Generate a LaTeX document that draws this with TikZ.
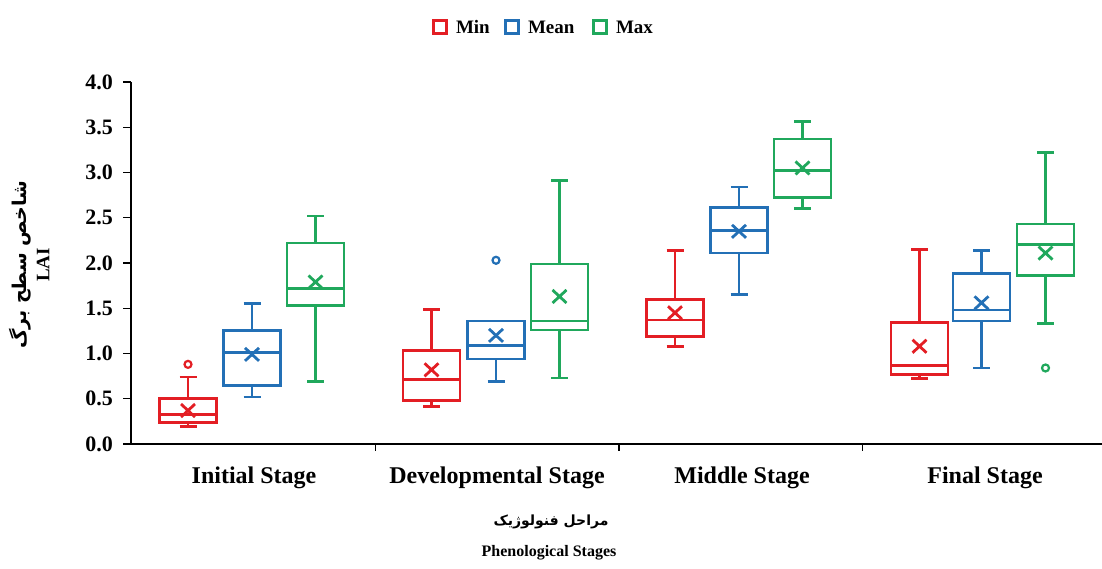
\documentclass[tikz,border=0pt]{standalone}
\usepackage{fontspec}
\setmainfont{Liberation Serif}
\newfontfamily\arabicfont[Script=Arabic]{DejaVu Sans}
\TeXXeTstate=1
\usepackage{tikz}
\usetikzlibrary{positioning}
\definecolor{minred}{RGB}{227,30,36}
\definecolor{meanblue}{RGB}{35,112,182}
\definecolor{maxgreen}{RGB}{32,168,92}
\tikzstyle{boxline} = [line width=2.8pt]
\tikzstyle{axisline} = [line width=1.3pt, black]
\tikzstyle{ticklabel} = [font=\bfseries\fontsize{22}{22}\selectfont, anchor=east, inner sep=0pt]
\tikzstyle{stagelabel} = [font=\bfseries\fontsize{24}{24}\selectfont, inner sep=0pt]
\tikzstyle{legendbox} = [draw, line width=2.6pt, minimum size=13pt, inner sep=0pt]
\tikzstyle{legendtext} = [font=\bfseries\fontsize{19}{19}\selectfont, inner sep=0pt]
% x, colour, lower whisker, q1, median, q3, upper whisker, mean
\newcommand{\stagebox}[8]{%
  \draw[boxline, #2] (#1,#3) -- (#1,#4) (#1,#6) -- (#1,#7)
    (#1-8.5,#3) -- (#1+8.5,#3) (#1-8.5,#7) -- (#1+8.5,#7);
  \draw[boxline, #2] (#1-28.5,#4) rectangle (#1+28.5,#6);
  \draw[boxline, #2] (#1-28.5,#5) -- (#1+28.5,#5);
  \draw[boxline, #2] (#1,#8) +(-7pt,-6.5pt) -- +(7pt,6.5pt) (#1,#8) +(-7pt,6.5pt) -- +(7pt,-6.5pt);
}
\begin{document}
\begin{tikzpicture}[x=1pt, y=1pt]
\useasboundingbox (0,0) rectangle (1102,568);

% Legend
\node[legendbox, draw=minred] (legmin) at (440,541) {};
\node[legendtext, right=8pt of legmin] (legmintext) {Min};
\node[legendbox, draw=meanblue] (legmean) at (512,541) {};
\node[legendtext, right=8pt of legmean] (legmeantext) {Mean};
\node[legendbox, draw=maxgreen] (legmax) at (600,541) {};
\node[legendtext, right=8pt of legmax] (legmaxtext) {Max};

\begin{scope}[shift={(0,124)}, y=90.5pt]
% Axes
\draw[axisline] (131,4) -- (131,0) -- (1102,0);
\foreach \v in {0.0,0.5,1.0,1.5,2.0,2.5,3.0,3.5,4.0} {
  \draw[axisline] (123,\v) -- (131,\v);
  \node[ticklabel] (tick\v) at (113,\v) {\v};
}
\foreach \x in {375.5,619,862.5}
  \draw[axisline] (\x,0) -- ++(0,-7pt);

% Initial Stage
\stagebox{188}{minred}{0.19}{0.24}{0.33}{0.50}{0.74}{0.37}
\stagebox{252}{meanblue}{0.52}{0.65}{1.01}{1.25}{1.55}{0.99}
\stagebox{315.5}{maxgreen}{0.69}{1.53}{1.72}{2.22}{2.52}{1.79}
\draw[minred, line width=2.2pt] (188,0.88) circle (3.5pt);

% Developmental Stage
\stagebox{431.5}{minred}{0.41}{0.48}{0.71}{1.03}{1.49}{0.82}
\stagebox{496}{meanblue}{0.69}{0.94}{1.09}{1.36}{1.36}{1.20}
\stagebox{559.5}{maxgreen}{0.73}{1.26}{1.36}{1.99}{2.91}{1.63}
\draw[meanblue, line width=2.2pt] (496,2.03) circle (3.5pt);

% Middle Stage
\stagebox{675}{minred}{1.08}{1.19}{1.37}{1.60}{2.14}{1.45}
\stagebox{739}{meanblue}{1.65}{2.11}{2.36}{2.61}{2.84}{2.35}
\stagebox{802.5}{maxgreen}{2.60}{2.72}{3.02}{3.37}{3.56}{3.05}

% Final Stage
\stagebox{919.5}{minred}{0.72}{0.77}{0.87}{1.34}{2.15}{1.08}
\stagebox{981.5}{meanblue}{0.84}{1.36}{1.48}{1.88}{2.14}{1.56}
\stagebox{1045.5}{maxgreen}{1.33}{1.86}{2.20}{2.43}{3.22}{2.11}
\draw[maxgreen, line width=2.2pt] (1045.5,0.84) circle (3.5pt);
\end{scope}

% Stage names
\node[stagelabel] (initial) at (254,90) {Initial Stage};
\node[stagelabel] (developmental) at (497,90) {Developmental Stage};
\node[stagelabel] (middle) at (742,90) {Middle Stage};
\node[stagelabel] (final) at (985,90) {Final Stage};

% Axis titles
\node[rotate=90, inner sep=0pt] (ytitle) at (20,303)
  {\arabicfont\bfseries\fontsize{19}{19}\selectfont\beginR شاخص سطح برگ\endR};
\node[rotate=90, inner sep=0pt, font=\bfseries\fontsize{19}{19}\selectfont] (ylai) at (43,303) {LAI};
\node[inner sep=0pt] (xtitle) at (551,46)
  {\arabicfont\bfseries\fontsize{14}{14}\selectfont\beginR مراحل فنولوژیک\endR};
\node[inner sep=0pt, font=\bfseries\fontsize{16}{16}\selectfont] (xsubtitle) at (549,15)
  {Phenological Stages};
\end{tikzpicture}
\end{document}
